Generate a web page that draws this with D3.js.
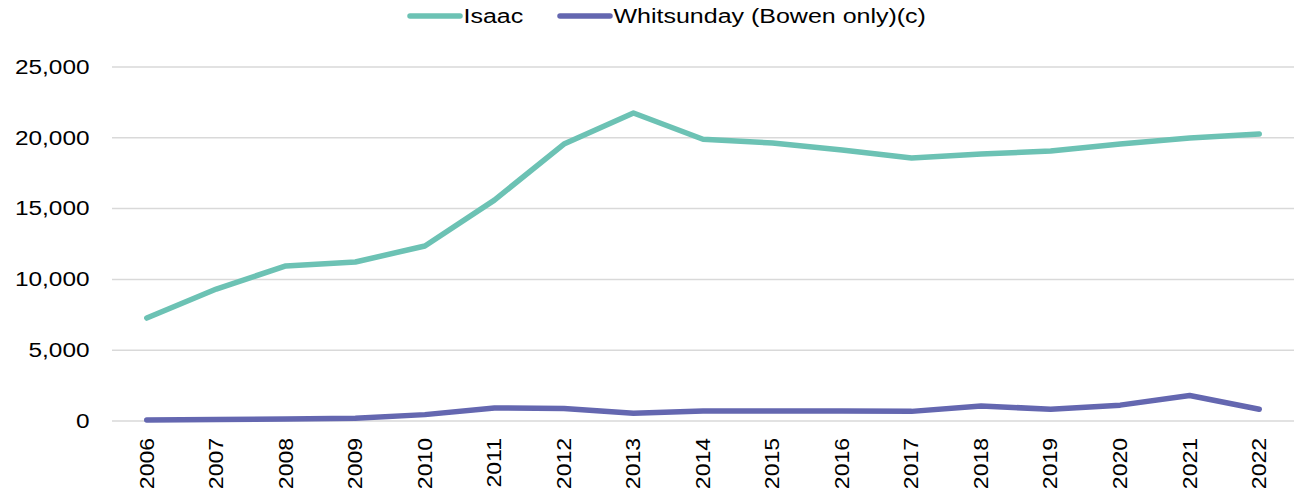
<!DOCTYPE html>
<html><head><meta charset="utf-8">
<script src="https://cdn.jsdelivr.net/npm/d3@7"></script>
<style>body{margin:0;background:#fff}svg{display:block}text{font-family:"Liberation Sans",Arial,sans-serif;fill:#000}</style>
</head><body><svg id="c" width="1299" height="491"></svg>
<script>
const years = ["2006","2007","2008","2009","2010","2011","2012","2013","2014","2015","2016","2017","2018","2019","2020","2021","2022"];
const isaac = [7270,9320,10950,11230,12360,15600,19560,21750,19900,19630,19140,18570,18850,19070,19560,19990,20270];
const whitsunday = [70,100,150,200,450,920,880,540,710,710,710,680,1060,830,1120,1800,830];
const yTicks = [0,5000,10000,15000,20000,25000];
const seriesNames = ["Isaac","Whitsunday (Bowen only)(c)"];
const colors = ["#6cc2b4","#6467b0"];

const svg = d3.select("#c");
const m = {l:112, r:1294, t:67, b:421};
const x = d3.scaleBand().domain(years).range([m.l, m.r]);
const y = d3.scaleLinear().domain([0,25000]).range([m.b, m.t]);
const fmt = d3.format(",");

// gridlines
svg.append("g").selectAll("line").data(yTicks).join("line")
  .attr("x1", m.l).attr("x2", m.r)
  .attr("y1", d=>y(d)).attr("y2", d=>y(d))
  .attr("stroke","#d9d9d9").attr("stroke-width",1.5);

// y axis labels
const ya = svg.append("g").call(d3.axisLeft(y).tickValues(yTicks).tickFormat(fmt).tickSize(0).tickPadding(0));
ya.select(".domain").remove();
ya.selectAll(".tick").attr("transform", d=>`translate(89.5,${y(d)}) scale(1.25,1)`);
ya.selectAll("text").style("font-size","19.5px").attr("font-family",null).attr("x",0).attr("dy","0.35em");

// x axis labels
const xa = svg.append("g").attr("transform",`translate(0,${m.b})`)
  .call(d3.axisBottom(x).tickSize(0));
xa.select(".domain").remove();
xa.selectAll("text").style("font-size","19.5px").attr("font-family",null)
  .attr("transform","rotate(-90) scale(1.18,1)").attr("text-anchor","end")
  .attr("x",-17/1.18).attr("y",0).attr("dy","0.35em");

const cx = d => x(d) + x.bandwidth()/2;
const line = d3.line().x((d,i)=>cx(years[i])).y(d=>y(d));
[isaac, whitsunday].forEach((s,k)=>{
  svg.append("path").datum(s).attr("d",line)
    .attr("fill","none").attr("stroke",colors[k]).attr("stroke-width",5.5)
    .attr("stroke-linejoin","round").attr("stroke-linecap","round");
});

// legend
const legX = [407,557];
const textX = [463.5,613.5];
seriesNames.forEach((n,k)=>{
  const g = svg.append("g");
  g.append("line").attr("x1",legX[k]+3).attr("x2",legX[k]+53).attr("y1",16).attr("y2",16)
    .attr("stroke",colors[k]).attr("stroke-width",5.5).attr("stroke-linecap","round");
  g.append("text").attr("transform",`translate(${textX[k]},16) scale(1.25,1)`).attr("dy","0.35em")
    .style("font-size","20px").text(n);
});
</script></body></html>
